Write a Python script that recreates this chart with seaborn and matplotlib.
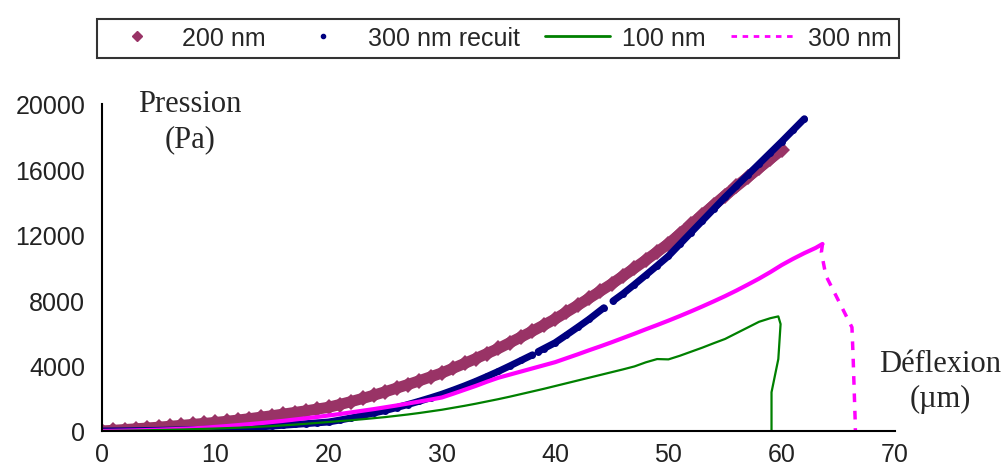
import matplotlib
matplotlib.use("Agg")
import numpy as np
import pandas as pd
import seaborn as sns
import matplotlib.pyplot as plt
from matplotlib.lines import Line2D

# ---------------- data ----------------
labels = ["200 nm", "300 nm recuit", "100 nm", "300 nm"]
x_ticks = [0, 10, 20, 30, 40, 50, 60, 70]
y_ticks = [0, 4000, 8000, 12000, 16000, 20000]

# 200 nm
x_200 = list(range(0, 61))
y_200 = [0, 40, 85, 130, 180, 230, 285, 340, 400, 460,
         520, 590, 665, 750, 840, 930, 1030, 1130, 1230, 1340,
         1450, 1620, 1800, 1990, 2190, 2400, 2620, 2840, 3070, 3310,
         3550, 3840, 4130, 4430, 4740, 5050, 5400, 5750, 6110, 6480,
         6850, 7270, 7690, 8120, 8560, 9000, 9480, 9960, 10450, 10950,
         11450, 12040, 12630, 13220, 13810, 14400, 14960, 15520, 16080, 16640,
         17200]

# 300 nm recuit (two small gaps in the recorded trace)
x_300r = [0, 1, 2, 3, 4, 5, 6, 7, 8, 9,
          10, 11, 12, 13, 14, 15, 16, 17, 18, 19,
          20, 21, 22, 23, 24, 25, 26, 27, 28, 29,
          30, 31, 32, 33, 34, 35, 36, 37, 38,
          38.5, 39, 40, 41, 42, 43, 44.3,
          45.1, 46, 47, 48, 49, 50, 51, 52, 53, 54,
          55, 56, 57, 58, 59, 60, 61, 62]
y_300r = [0, 5, 10, 20, 30, 40, 55, 70, 85, 100,
          120, 145, 170, 200, 250, 300, 350, 400, 450, 500,
          550, 670, 800, 950, 1100, 1250, 1430, 1620, 1820, 2030,
          2250, 2500, 2760, 3040, 3340, 3650, 3980, 4320, 4660,
          4860, 5040, 5400, 5870, 6350, 6840, 7540,
          7950, 8400, 8960, 9530, 10110, 10700, 11420, 12140, 12860, 13580,
          14300, 14980, 15660, 16340, 17020, 17700, 18400, 19100]
gaps_300r = [38.25, 44.7]

# 100 nm (loading curve then rupture)
x_100 = [0, 1, 2, 3, 4, 5, 6, 7, 8, 9,
         10, 11, 12, 13, 14, 15, 16, 17, 18, 19,
         20, 21, 22, 23, 24, 25, 26, 27, 28, 29,
         30, 31, 32, 33, 34, 35, 36, 37, 38, 39,
         40, 41, 42, 43, 44, 45, 46, 47, 48, 49,
         50, 51, 52, 53, 54, 55, 56, 57, 58, 59,
         59.7, 59.9, 59.7, 59.1, 59.1]
y_100 = [0, 10, 20, 30, 45, 60, 75, 90, 110, 130,
         150, 175, 200, 230, 265, 300, 345, 390, 440, 495,
         550, 605, 660, 720, 785, 850, 930, 1010, 1100, 1200,
         1300, 1420, 1540, 1670, 1810, 1950, 2100, 2260, 2420, 2580,
         2750, 2920, 3090, 3260, 3430, 3600, 3770, 3950, 4200, 4400,
         4380, 4600, 4850, 5100, 5370, 5630, 5980, 6330, 6680, 6900,
         7010, 6540, 4400, 2370, 0]

# 300 nm (loading curve)
x_300 = [0, 1, 2, 3, 4, 5, 6, 7, 8, 9,
         10, 11, 12, 13, 14, 15, 16, 17, 18, 19,
         20, 21, 22, 23, 24, 25, 26, 27, 28, 29,
         30, 31, 32, 33, 34, 35, 36, 37, 38, 39,
         40, 41, 42, 43, 44, 45, 46, 47, 48, 49,
         50, 51, 52, 53, 54, 55, 56, 57, 58, 59,
         60, 61, 62, 63, 63.6]
y_300 = [0, 10, 25, 40, 60, 80, 105, 130, 160, 200,
         250, 300, 360, 420, 480, 550, 620, 700, 780, 860,
         950, 1040, 1140, 1240, 1340, 1450, 1560, 1680, 1800, 1920,
         2050, 2280, 2520, 2760, 3020, 3260, 3450, 3640, 3830, 4020,
         4210, 4450, 4690, 4940, 5180, 5430, 5690, 5950, 6220, 6480,
         6750, 7030, 7320, 7620, 7930, 8250, 8590, 8950, 9320, 9720,
         10150, 10530, 10880, 11200, 11440]
# 300 nm rupture part (dashed)
x_300_drop = [63.6, 63.5, 63.9, 66.2, 66.3, 66.5, 66.5]
y_300_drop = [11440, 10930, 9500, 6340, 4590, 300, 0]

colors = {"200 nm": "#993366", "300 nm recuit": "#000080",
          "100 nm": "#008000", "300 nm": "#FF00FF"}

# ---------------- figure ----------------
sns.set_style("white")
plt.rcParams["font.family"] = ["Liberation Sans", "DejaVu Sans"]

fig = plt.figure(figsize=(10.08, 4.77), dpi=100)
ax = fig.add_axes([102 / 1008, 1 - 432 / 477, 793 / 1008, 327 / 477])

df200 = pd.DataFrame({"x": x_200, "y": y_200})
sns.lineplot(data=df200, x="x", y="y", ax=ax, sort=False, estimator=None,
             color=colors["200 nm"], linewidth=8, marker="D", markersize=8,
             markeredgewidth=0)

df300r = pd.DataFrame({"x": x_300r, "y": y_300r})
df300r["seg"] = np.searchsorted(gaps_300r, df300r["x"])
sns.lineplot(data=df300r, x="x", y="y", units="seg", estimator=None, ax=ax, sort=False,
             color=colors["300 nm recuit"], linewidth=5, marker="o", markersize=5,
             markeredgewidth=0)

df300 = pd.DataFrame({"x": x_300, "y": y_300})
sns.lineplot(data=df300, x="x", y="y", ax=ax, sort=False, estimator=None,
             color=colors["300 nm"], linewidth=3)
df300d = pd.DataFrame({"x": x_300_drop, "y": y_300_drop})
sns.lineplot(data=df300d, x="x", y="y", ax=ax, sort=False, estimator=None,
             color=colors["300 nm"], linewidth=2.5, linestyle=(0, (2.5, 2.5)))

df100 = pd.DataFrame({"x": x_100, "y": y_100})
sns.lineplot(data=df100, x="x", y="y", ax=ax, sort=False, estimator=None,
             color=colors["100 nm"], linewidth=1.6)

ax.set_xlim(0, 70)
ax.set_ylim(0, 20000)
ax.set_xticks(x_ticks)
ax.set_yticks(y_ticks)
ax.set_xlabel("")
ax.set_ylabel("")
for s in ["top", "right"]:
    ax.spines[s].set_visible(False)
for s in ["left", "bottom"]:
    ax.spines[s].set_color("black")
    ax.spines[s].set_linewidth(1.5)
ax.tick_params(axis="both", direction="out", length=7, width=1.5, color="black",
               labelsize=18, labelcolor="#222222")
ax.tick_params(axis="x", pad=1)
ax.tick_params(axis="y", pad=5)

# axis captions
fig.text(190 / 1008, 1 - 122 / 477, "Pression\n(Pa)", ha="center", va="center",
         family="Liberation Serif", fontsize=22, linespacing=1.25)
fig.text(940 / 1008, 1 - 382 / 477, "Déflexion\n(µm)", ha="center", va="center",
         family="Liberation Serif", fontsize=22, linespacing=1.25)

handles = [
    Line2D([], [], color=colors["200 nm"], marker="D", linestyle="None", markersize=5),
    Line2D([], [], color=colors["300 nm recuit"], marker="o", linestyle="None", markersize=3),
    Line2D([], [], color=colors["100 nm"], linewidth=2),
    Line2D([], [], color=colors["300 nm"], linewidth=2, linestyle=(0, (2, 2))),
]
leg = fig.legend(handles, labels, loc="center", bbox_to_anchor=(498 / 1008, 1 - 39 / 477),
                 ncol=4, fontsize=18, frameon=True, fancybox=False, handlelength=2.6,
                 handletextpad=0.5, columnspacing=1.0, borderpad=0.3)
leg.get_frame().set_edgecolor("black")
leg.get_frame().set_linewidth(1.5)

fig.savefig("out.png", dpi=100)
